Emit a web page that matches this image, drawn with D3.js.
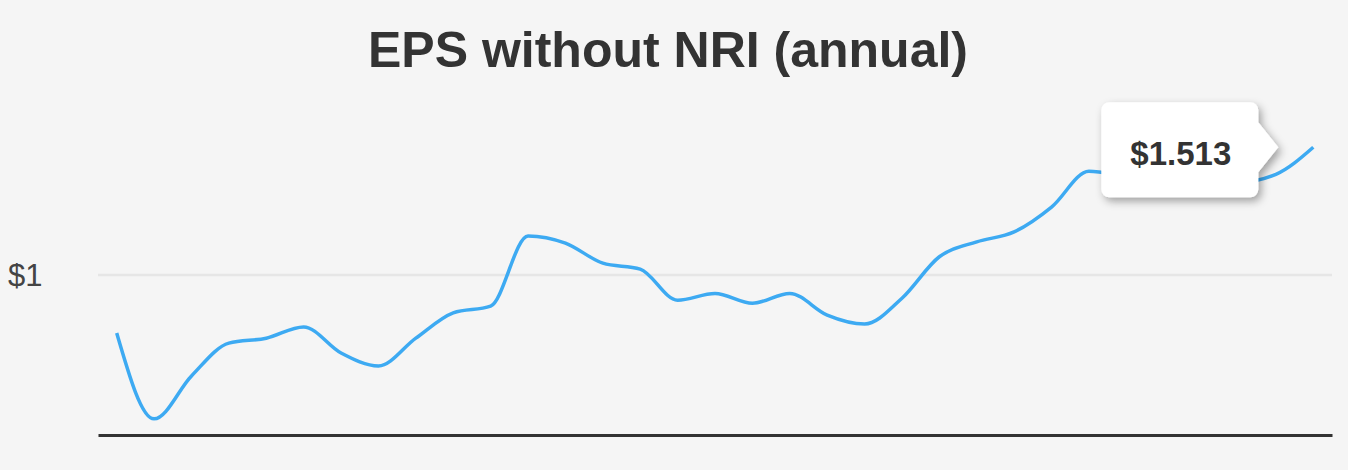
<!DOCTYPE html>
<html>
<head>
<meta charset="utf-8">
<script src="https://cdn.jsdelivr.net/npm/d3@7/dist/d3.min.js"></script>
<style>
  html, body { margin: 0; padding: 0; background: #f5f5f5; }
  svg { display: block; }
</style>
</head>
<body>
<svg id="chart" width="1348" height="470"></svg>
<script>
const titleText = "EPS without NRI (annual)";
const years = [1991,1992,1993,1994,1995,1996,1997,1998,1999,2000,2001,2002,2003,2004,2005,2006,2007,2008,2009,2010,2011,2012,2013,2014,2015,2016,2017,2018,2019,2020,2021,2022,2023];
const eps = [0.765,0.419,0.592,0.724,0.744,0.789,0.684,0.632,0.744,0.846,0.873,1.156,1.127,1.046,1.022,0.897,0.924,0.885,0.924,0.837,0.801,0.905,1.072,1.132,1.172,1.272,1.416,1.396,1.380,1.388,1.372,1.404,1.513];
const yTicks = [1];
const yDomain = [0.354, 1.8];

const W = 1348, H = 470;
const plot = { left: 98, right: 1332, top: 76, bottom: 435 };

const svg = d3.select("#chart");
svg.append("rect").attr("width", W).attr("height", H).attr("fill", "#f5f5f5");

const defs = svg.append("defs");
const f = defs.append("filter").attr("id", "shadow").attr("x", "-20%").attr("y", "-30%").attr("width", "150%").attr("height", "170%");
f.append("feDropShadow").attr("dx", 3).attr("dy", 4).attr("stdDeviation", 4).attr("flood-color", "#000").attr("flood-opacity", 0.35);

const x = d3.scalePoint().domain(years).range([plot.left, plot.right]).padding(0.5);
const y = d3.scaleLinear().domain(yDomain).range([plot.bottom, plot.top]);

// title
svg.append("text")
  .attr("x", 668).attr("y", 67)
  .attr("text-anchor", "middle")
  .attr("font-family", "'Liberation Sans', Arial, sans-serif")
  .attr("font-weight", "bold")
  .attr("font-size", 50)
  .attr("fill", "#333")
  .text(titleText);

// y axis gridlines and labels
const yAxis = d3.axisLeft(y).tickValues(yTicks).tickSize(-(plot.right - plot.left)).tickFormat(d => "$" + d);
const gy = svg.append("g").attr("transform", `translate(${plot.left},0)`).call(yAxis);
gy.select(".domain").remove();
gy.selectAll(".tick line").attr("stroke", "#e6e6e6").attr("stroke-width", 2.5);
gy.selectAll(".tick text")
  .attr("x", -90).attr("dy", "0.36em")
  .attr("text-anchor", "start")
  .attr("font-family", "'Liberation Sans', Arial, sans-serif")
  .attr("font-size", 31)
  .attr("fill", "#444");

// x axis baseline
const xAxis = d3.axisBottom(x).tickValues([]).tickSizeOuter(0);
const gx = svg.append("g").attr("transform", `translate(0,${plot.bottom})`).call(xAxis);
gx.select(".domain").attr("stroke", "#333").attr("stroke-width", 3);

// line
const line = d3.line().x((d, i) => x(years[i])).y(d => y(d)).curve(d3.curveMonotoneX);
svg.append("path")
  .datum(eps)
  .attr("d", line)
  .attr("fill", "none")
  .attr("stroke", "#3daaf2")
  .attr("stroke-width", 3.5)
  .attr("stroke-linejoin", "round");

// tooltip for last point
const li = eps.length - 1;
const px = x(years[li]), py = y(eps[li]);
const tipX = px - 35, tipY = py;
const bx1 = tipX - 20, bw = 157, bx0 = bx1 - bw;
const by0 = tipY - 45, bh = 95, by1 = by0 + bh, r = 8;
const aTop = tipY - 25, aBot = tipY + 25;
const p = d3.path();
p.moveTo(bx0 + r, by0);
p.lineTo(bx1 - r, by0);
p.arcTo(bx1, by0, bx1, by0 + r, r);
p.lineTo(bx1, aTop);
p.lineTo(tipX, tipY);
p.lineTo(bx1, aBot);
p.lineTo(bx1, by1 - r);
p.arcTo(bx1, by1, bx1 - r, by1, r);
p.lineTo(bx0 + r, by1);
p.arcTo(bx0, by1, bx0, by1 - r, r);
p.lineTo(bx0, by0 + r);
p.arcTo(bx0, by0, bx0 + r, by0, r);
p.closePath();
svg.append("path").attr("d", p.toString()).attr("fill", "#fff").attr("filter", "url(#shadow)");
svg.append("text")
  .attr("x", (bx0 + bx1) / 2 + 1).attr("y", by0 + 63)
  .attr("text-anchor", "middle")
  .attr("font-family", "'Liberation Sans', Arial, sans-serif")
  .attr("font-weight", "bold")
  .attr("font-size", 33)
  .attr("fill", "#333")
  .text("$" + eps[li].toFixed(3));
</script>
</body>
</html>
